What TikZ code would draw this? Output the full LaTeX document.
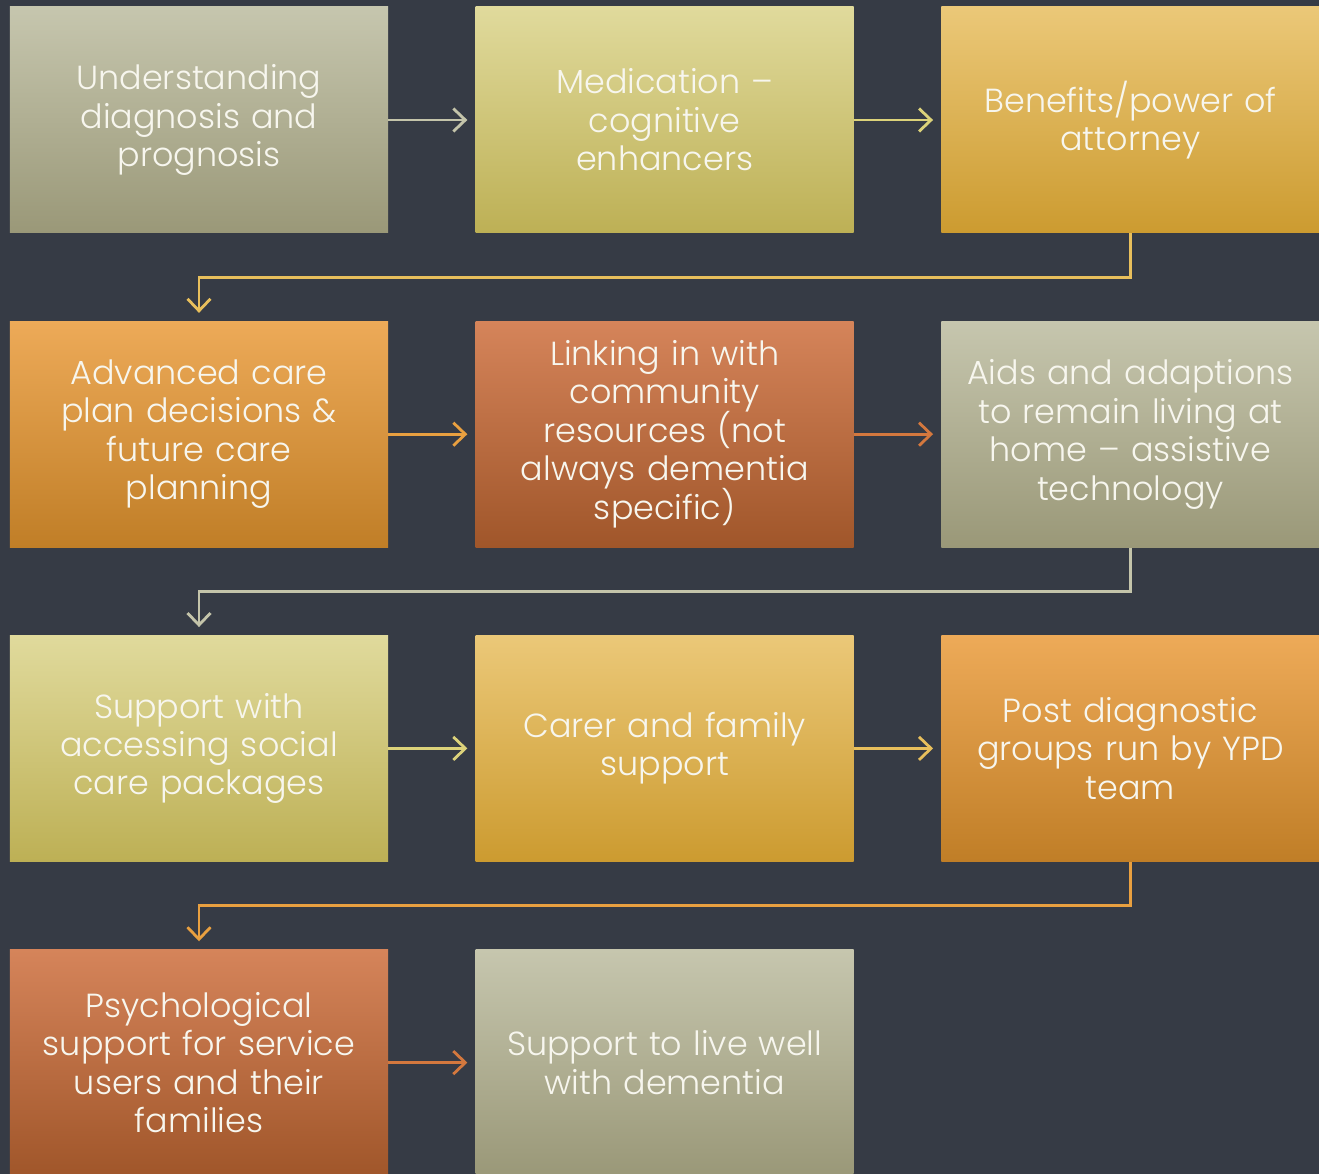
\documentclass[tikz,border=0pt]{standalone}
\usepackage{fontspec}
\setmainfont{Poppins}[UprightFont={* Light}]
\usepackage{tikz}
\usetikzlibrary{arrows.meta, positioning, calc}

\definecolor{bgdark}{HTML}{363B45}
\definecolor{boxtext}{HTML}{F7F6EE}
\definecolor{greyTop}{HTML}{C6C6AE}
\definecolor{greyBot}{HTML}{9A9878}
\definecolor{oliveTop}{HTML}{E0DA9C}
\definecolor{oliveBot}{HTML}{BDB055}
\definecolor{goldTop}{HTML}{EBC878}
\definecolor{goldBot}{HTML}{CC9B30}
\definecolor{orangeTop}{HTML}{EDAA58}
\definecolor{orangeBot}{HTML}{C07E27}
\definecolor{rustTop}{HTML}{D5845A}
\definecolor{rustBot}{HTML}{A0562A}
\definecolor{greyLine}{HTML}{C4C4AA}
\definecolor{oliveLine}{HTML}{DCD27A}
\definecolor{goldLine}{HTML}{E8BF5C}
\definecolor{orangeLine}{HTML}{E9A040}
\definecolor{rustLine}{HTML}{D4783E}

\newcommand{\boxfont}{\fontsize{19}{21.9}\selectfont\lineskiplimit=-20pt\relax}

\begin{document}
\begin{tikzpicture}[
    node distance=1.75cm and 1.74cm,
    block/.style={rectangle, minimum width=7.56cm, minimum height=4.52cm, inner sep=0.2cm,
        text width=7.1cm, align=center, text=boxtext, font=\boxfont},
    greybox/.style={block, top color=greyTop, bottom color=greyBot},
    olivebox/.style={block, top color=oliveTop, bottom color=oliveBot},
    goldbox/.style={block, top color=goldTop, bottom color=goldBot},
    orangebox/.style={block, top color=orangeTop, bottom color=orangeBot},
    rustbox/.style={block, top color=rustTop, bottom color=rustBot},
    arrow/.style={-{Straight Barb[length=2.4mm, width=4.6mm, line width=1.6pt]}, line width=1.6pt, shorten >=0.16cm}
]
\fill[bgdark] (0,0) rectangle (26.38,-23.48);
\useasboundingbox (0,0) rectangle (26.38,-23.48);

\node[greybox] (diagnosis) at (3.98,-2.40) {Understanding\\diagnosis and\\prognosis};
\node[olivebox, right=of diagnosis] (medication) {Medication –\\cognitive\\enhancers};
\node[goldbox, right=of medication] (benefits) {Benefits/power of\\attorney};
\node[orangebox, below=of diagnosis] (careplan) {Advanced care\\plan decisions \&\\future care\\planning};
\node[rustbox, right=of careplan] (community) {Linking in with\\community\\resources (not\\always dementia\\specific)};
\node[greybox, right=of community] (aids) {Aids and adaptions\\to remain living at\\home – assistive\\technology};
\node[olivebox, below=of careplan] (socialcare) {Support with\\accessing social\\care packages};
\node[goldbox, right=of socialcare] (carer) {Carer and family\\support};
\node[orangebox, right=of carer] (groups) {Post diagnostic\\groups run by YPD\\team};
\node[rustbox, below=of socialcare] (psych) {Psychological\\support for service\\users and their\\families};
\node[greybox, right=of psych] (livewell) {Support to live well\\with dementia};

\draw[arrow, greyLine] (diagnosis) -- (medication);
\draw[arrow, oliveLine] (medication) -- (benefits);
\draw[arrow, goldLine] (benefits.south) -- ++(0,-0.88) -| (careplan.north);
\draw[arrow, orangeLine] (careplan) -- (community);
\draw[arrow, rustLine] (community) -- (aids);
\draw[arrow, greyLine] (aids.south) -- ++(0,-0.88) -| (socialcare.north);
\draw[arrow, oliveLine] (socialcare) -- (carer);
\draw[arrow, goldLine] (carer) -- (groups);
\draw[arrow, orangeLine] (groups.south) -- ++(0,-0.88) -| (psych.north);
\draw[arrow, rustLine] (psych) -- (livewell);
\end{tikzpicture}
\end{document}
